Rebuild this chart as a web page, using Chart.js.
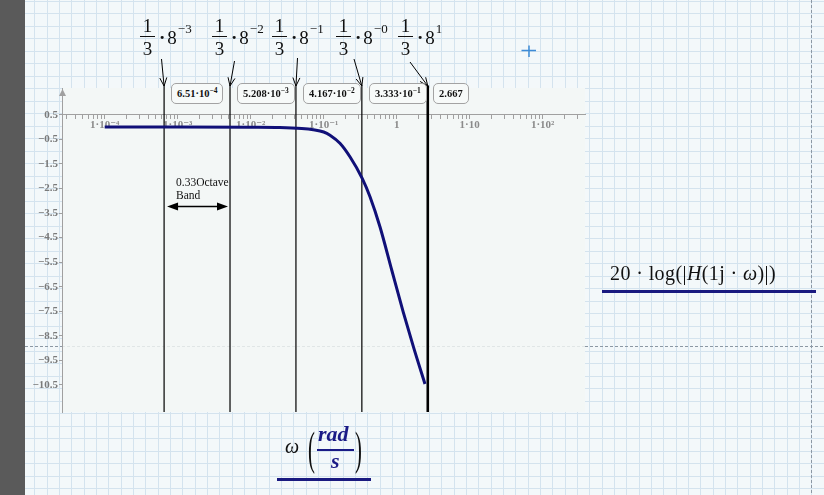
<!DOCTYPE html>
<html>
<head>
<meta charset="utf-8">
<script src="https://cdn.jsdelivr.net/npm/chart.js@4.4.0/dist/chart.umd.min.js"></script>
<style>
  html, body { margin: 0; padding: 0; background: #f3f8fa; }
  #sheet { position: relative; width: 824px; height: 495px; overflow: hidden; }
  #chart { position: absolute; left: 0; top: 0; }
  .ov { position: absolute; font-family: 'Liberation Serif', 'DejaVu Serif', serif; color: #111; white-space: nowrap; }
  .frm { display: flex; align-items: center; font-size: 19px; }
  .frac { display: flex; flex-direction: column; align-items: center; line-height: 18px; }
  .bar { width: 15px; height: 1.2px; background: #111; margin: 1px 0 3px 0; }
  .dot { margin: 0 2px 0 4px; font-weight: bold; }
  .pw { align-self: flex-start; font-size: 13px; line-height: 13px; margin-top: 5px; margin-left: 1px; }
  .vbox { border: 1px solid #a3a3a3; border-radius: 5px; background: #f7faf9; height: 19px; line-height: 19px;
          padding: 0 5px; font-size: 10.5px; font-weight: bold; }
  .vbox sup { font-size: 7.5px; vertical-align: 4px; line-height: 0; }
  .band { font-size: 11.5px; line-height: 13px; }
  .navy { color: #1a1a86; }
</style>
</head>
<body>
<div id="sheet">
  <canvas id="chart" width="824" height="495"></canvas>
</div>
<script>
// curve: omega in rad/s, gain in dB
const omega = [1e-4, 1e-3, 1e-2, 0.025, 0.05, 0.072, 0.1, 0.122, 0.167, 0.229, 0.337, 0.431, 0.59, 0.855, 1.23, 1.7, 2.44];
const gainDb = [0, 0, -0.01, -0.02, -0.06, -0.11, -0.2, -0.33, -0.66, -1.21, -2.09, -2.84, -4.06, -5.82, -7.53, -8.96, -10.46];

// band edges 1/3 * 8^k
const markerOmega = [6.51e-4, 5.208e-3, 4.167e-2, 0.3333, 2.667];
const markerMant = ['6.51', '5.208', '4.167', '3.333', '2.667'];
const markerExp = ['−4', '−3', '−2', '−1', ''];
const powerExp = ['−3', '−2', '−1', '−0', '1'];

const xDecades = [1e-4, 1e-3, 1e-2, 1e-1, 1, 10, 100];
const xDecadeText = ['1·10⁻⁴', '1·10⁻³', '1·10⁻²', '1·10⁻¹', '1', '1·10', '1·10²'];
const yTicks = [0.5, -0.5, -1.5, -2.5, -3.5, -4.5, -5.5, -6.5, -7.5, -8.5, -9.5, -10.5];

const xMin = 2.6e-5, xMax = 380;
const yMin = -11.6, yMax = 1.59;

const navy = '#101078';

// all decade + minor tick positions inside the axis range
const xTickList = [];
for (let e = -5; e <= 2; e++) {
    for (let m = 1; m <= 9; m++) {
        const v = m * Math.pow(10, e);
        if (v >= xMin && v <= xMax) xTickList.push(v);
    }
}

function xLabel(v) {
    const i = xDecades.findIndex(d => Math.abs(d - v) / d < 1e-6);
    return i >= 0 ? xDecadeText[i] : '';
}

const tickFont = { family: "'Liberation Serif', 'DejaVu Serif', serif", size: 11, weight: 'bold' };

function line(ctx, x1, y1, x2, y2) {
    ctx.beginPath();
    ctx.moveTo(x1, y1);
    ctx.lineTo(x2, y2);
    ctx.stroke();
}

const sheetPlugin = {
    id: 'sheet',
    beforeDraw(chart) {
        const { ctx, chartArea: a, width, height } = chart;
        ctx.save();
        ctx.fillStyle = '#f3f8fa';
        ctx.fillRect(0, 0, width, height);
        // worksheet grid
        ctx.strokeStyle = '#d4e3ee';
        ctx.lineWidth = 1;
        for (let x = 9.8; x < width; x += 12.33) line(ctx, Math.round(x) + 0.5, 0, Math.round(x) + 0.5, height);
        for (let y = 0.8; y < height; y += 12.5) line(ctx, 0, Math.round(y) + 0.5, width, Math.round(y) + 0.5);
        ctx.fillStyle = '#5a5a5a';
        ctx.fillRect(0, 0, 25, height);
        // plot background
        ctx.fillStyle = '#f3f7f6';
        ctx.fillRect(a.left, a.top, a.right - a.left, a.bottom - a.top);
        // page breaks
        ctx.setLineDash([3, 2]);
        ctx.strokeStyle = '#8c98a3';
        line(ctx, 25, 346.5, a.left, 346.5);
        line(ctx, a.right, 346.5, width, 346.5);
        line(ctx, 811.5, 0, 811.5, height);
        ctx.strokeStyle = '#e0e6e6';
        line(ctx, a.left, 346.5, a.right, 346.5);
        ctx.restore();
    },
    afterDraw(chart) {
        const { ctx, chartArea: a, scales: { x } } = chart;
        ctx.save();
        // y axis arrow
        ctx.fillStyle = '#a0a0a0';
        ctx.beginPath();
        ctx.moveTo(a.left + 0.5, 89);
        ctx.lineTo(a.left - 3, 96);
        ctx.lineTo(a.left + 4, 96);
        ctx.closePath();
        ctx.fill();

        // octave band double arrow
        const bx1 = x.getPixelForValue(markerOmega[0]) + 3;
        const bx2 = x.getPixelForValue(markerOmega[1]) - 2;
        const by = 206.5;
        ctx.strokeStyle = '#000';
        ctx.fillStyle = '#000';
        ctx.lineWidth = 1.3;
        line(ctx, bx1 + 4, by, bx2 - 4, by);
        ctx.beginPath();
        ctx.moveTo(bx1, by); ctx.lineTo(bx1 + 11, by - 4); ctx.lineTo(bx1 + 11, by + 4); ctx.closePath(); ctx.fill();
        ctx.beginPath();
        ctx.moveTo(bx2, by); ctx.lineTo(bx2 - 11, by - 4); ctx.lineTo(bx2 - 11, by + 4); ctx.closePath(); ctx.fill();

        // arrows from the formulas to the marker lines
        const from = [[161.5, 59], [234.5, 61], [297.5, 58], [354, 59], [410, 62]];
        ctx.lineWidth = 1;
        from.forEach(([sx, sy], i) => {
            const ex = x.getPixelForValue(markerOmega[i]);
            const ey = 86;
            line(ctx, sx, sy, ex, ey);
            const ang = Math.atan2(ey - sy, ex - sx);
            [0.4, -0.4].forEach(d => {
                line(ctx, ex, ey, ex - 9 * Math.cos(ang + d), ey - 9 * Math.sin(ang + d));
            });
        });

        // blue cursor
        ctx.strokeStyle = '#3d8bd6';
        ctx.lineWidth = 1.5;
        line(ctx, 521.5, 50.5, 536, 50.5);
        line(ctx, 529, 45.5, 529, 57);
        ctx.restore();
    }
};

const curve = omega.map((w, i) => ({ x: w, y: gainDb[i] }));
const markerSets = markerOmega.map((w, i) => ({
    data: [{ x: w, y: yMax + 0.1 }, { x: w, y: yMin }],
    borderColor: '#000',
    borderWidth: i === markerOmega.length - 1 ? 2.6 : 1.2,
    pointRadius: 0,
    clip: false
}));

const chart = new Chart(document.getElementById('chart'), {
    type: 'line',
    data: {
        datasets: [{
            data: curve,
            borderColor: navy,
            borderWidth: 3,
            pointRadius: 0,
            cubicInterpolationMode: 'monotone'
        }, ...markerSets]
    },
    options: {
        responsive: false,
        animation: false,
        layout: { padding: { left: 22, right: 239, top: 88, bottom: 83 } },
        plugins: { legend: { display: false }, tooltip: { enabled: false } },
        scales: {
            x: {
                type: 'logarithmic',
                min: xMin,
                max: xMax,
                position: { y: 0.5 },
                afterBuildTicks: s => { s.ticks = xTickList.map(v => ({ value: v })); },
                ticks: {
                    autoSkip: false, maxRotation: 0, minRotation: 0, padding: 0,
                    color: '#8a8a8a', font: tickFont,
                    callback: v => xLabel(v)
                },
                grid: { drawOnChartArea: false, tickLength: 4, color: '#a0a0a0' },
                border: { color: '#a0a0a0' }
            },
            y: {
                type: 'linear',
                min: yMin,
                max: yMax,
                position: 'left',
                afterFit: s => { s.width = 40; },
                afterBuildTicks: s => { s.ticks = yTicks.slice().reverse().map(v => ({ value: v })); },
                ticks: {
                    padding: 1, color: '#7a7a7a', font: tickFont,
                    callback: v => (v < 0 ? '−' : '') + Math.abs(v).toFixed(1)
                },
                grid: { drawOnChartArea: false, tickLength: 3, color: '#a0a0a0' },
                border: { color: '#a0a0a0' }
            }
        }
    },
    plugins: [sheetPlugin]
});

// text overlays
const sheet = document.getElementById('sheet');
function addDiv(cls, html, left, top) {
    const d = document.createElement('div');
    d.className = 'ov ' + cls;
    d.innerHTML = html;
    d.style.left = left + 'px';
    d.style.top = top + 'px';
    sheet.appendChild(d);
    return d;
}

const formulaLeft = [140, 212, 272, 336, 398];
powerExp.forEach((p, i) => {
    addDiv('frm', '<div class="frac"><span>1</span><span class="bar"></span><span>3</span></div>' +
        '<span class="dot">·</span><span>8</span><span class="pw">' + p + '</span>', formulaLeft[i], 17);
});

const xs = chart.scales.x;
markerMant.forEach((m, i) => {
    const txt = markerExp[i] ? m + '·10<sup>' + markerExp[i] + '</sup>' : m;
    const gap = i === markerMant.length - 1 ? 5 : 7;
    addDiv('vbox', txt, Math.round(xs.getPixelForValue(markerOmega[i])) + gap, 83);
});

addDiv('band', '0.33Octave<br>Band', 176, 176);

const rf = addDiv('', '20 · log(|<i>H</i>(1j · <i>ω</i>)|)', 610, 262);
rf.style.fontSize = '20px'; rf.style.letterSpacing = '0.4px';
const ul1 = addDiv('', '', 602, 290);
ul1.style.cssText += 'width:214px;height:3px;background:#1a1a80;';

const om = addDiv('', '<i>ω</i>', 285, 436);
om.style.fontSize = '20px'; om.style.lineHeight = '20px';
const lp = addDiv('', '(', 308, 426);
lp.style.cssText += 'font-size:46px;line-height:46px;transform:scaleX(0.45);transform-origin:left top;';
const rp = addDiv('', ')', 355, 426);
rp.style.cssText += 'font-size:46px;line-height:46px;transform:scaleX(0.45);transform-origin:left top;';
const rad = addDiv('navy', '<b><i>rad</i></b>', 318, 423);
rad.style.fontSize = '22px'; rad.style.lineHeight = '22px';
const fb = addDiv('', '', 317, 449);
fb.style.cssText += 'width:37px;height:1.5px;background:#1a1a86;';
const su = addDiv('navy', '<b><i>s</i></b>', 331, 450);
su.style.fontSize = '22px'; su.style.lineHeight = '22px';
const ul2 = addDiv('', '', 277, 478);
ul2.style.cssText += 'width:94px;height:2.5px;background:#1a1a80;';
</script>
</body>
</html>
